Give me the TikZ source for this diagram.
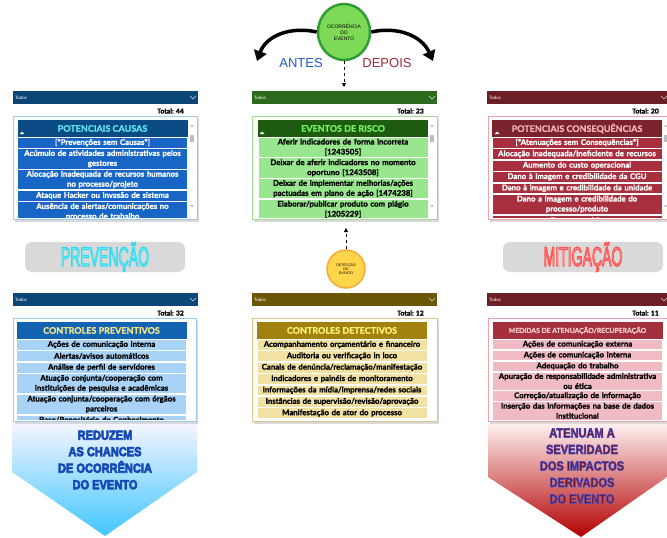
\documentclass[tikz,border=0pt]{standalone}
\usepackage{fontspec}
\setmainfont{Lato}[BoldFeatures={FakeBold=1.2}]
\newfontfamily\disp{Liberation Sans}
\usepackage{graphicx}
\usetikzlibrary{positioning, shapes.geometric, arrows.meta, shadows}

\definecolor{causebar}{HTML}{0B4677}
\definecolor{causehdr}{HTML}{0A4B86}
\definecolor{causetxt}{HTML}{5FE3EE}
\definecolor{causerow}{HTML}{1766C6}
\definecolor{causefr}{HTML}{9FCBF1}
\definecolor{eventbar}{HTML}{2D6A1E}
\definecolor{eventhdr}{HTML}{1E5B11}
\definecolor{eventtxt}{HTML}{72F25C}
\definecolor{eventrow}{HTML}{98E78E}
\definecolor{eventfr}{HTML}{A5DA95}
\definecolor{conbar}{HTML}{6C1F27}
\definecolor{conhdr}{HTML}{7A232D}
\definecolor{context}{HTML}{F7B2B2}
\definecolor{conrow}{HTML}{A82F3D}
\definecolor{confr}{HTML}{F2A3AA}
\definecolor{prevhdr}{HTML}{1363B3}
\definecolor{prevtxt}{HTML}{F3E68C}
\definecolor{prevrow}{HTML}{A8D3F7}
\definecolor{detbar}{HTML}{6A5808}
\definecolor{dethdr}{HTML}{A1820F}
\definecolor{dettxt}{HTML}{FFF275}
\definecolor{detrow}{HTML}{F1E1A3}
\definecolor{detfr}{HTML}{D9C587}
\definecolor{mithdr}{HTML}{A4303D}
\definecolor{mittxt}{HTML}{F9CACA}
\definecolor{mitrow}{HTML}{F1BBC3}
\definecolor{occfill}{HTML}{7ED957}
\definecolor{occdraw}{HTML}{2E9B36}
\definecolor{detcfill}{HTML}{FFD54A}
\definecolor{detcdraw}{HTML}{F7A93B}
\definecolor{antes}{HTML}{1E5BC6}
\definecolor{depois}{HTML}{A3283A}
\definecolor{reduz}{HTML}{1446B0}
\definecolor{atenua}{HTML}{6E0C1A}
\definecolor{prevglow}{HTML}{86F3F3}
\definecolor{mitglow}{HTML}{FF9C9C}

% outlined text: stroke colour (rgb), stroke width, text
\newcommand\outl[3]{\special{pdf:literal direct 2 Tr #2 w #1 RG}#3\special{pdf:literal direct 0 Tr}}

\tikzset{
  bar/.style={anchor=north west, inner sep=0pt, minimum height=13pt},
  todos/.style={anchor=west, text=white, font=\fontsize{4.5}{5}\selectfont, inner sep=2pt},
  total/.style={anchor=east, font=\fontsize{6.8}{7}\selectfont\bfseries, inner sep=0pt},
  frame/.style={draw=#1, line width=0.9pt, fill=white,
    drop shadow={opacity=0.3, shadow xshift=2pt, shadow yshift=-2.5pt}},
  hdr/.style={anchor=north, minimum width=170pt, minimum height=16.5pt, inner sep=0pt,
    font=\fontsize{9}{9}\selectfont\bfseries},
  row/.style={anchor=north, text width=168pt, align=center, inner xsep=1pt, inner ysep=1.5pt,
    minimum height=10.8pt, draw=white, line width=0.6pt, font=\fontsize{7.8}{10}\selectfont\bfseries},
  banner/.style={fill=black!15, rounded corners=7pt, minimum width=160pt, minimum height=30pt},
  glow/.style={font=\disp\fontsize{27}{27}\selectfont, inner sep=0pt},
  slogan/.style={align=center, font=\disp\fontsize{13}{16.5}\selectfont\bfseries, inner sep=0pt},
  bigarrow/.style={line width=3.5pt, -{Triangle[width=13pt,length=10pt]}},
  dasharrow/.style={dashed, line width=0.9pt, -{Triangle[width=4pt,length=4pt]}},
  scrl/.style={draw=black!45, line width=0.5pt}
}

\begin{document}
\begin{tikzpicture}[x=1pt, y=-1pt, node distance=0pt]
\useasboundingbox (0,0) rectangle (667,538);

% top: event occurrence %
\node[ellipse, fill=occfill, draw=occdraw, line width=2.5pt, minimum width=52pt, minimum height=56pt,
  align=center, inner sep=0pt, font=\disp\fontsize{5}{6}\selectfont] (occ) at (344,32) {OCORRÊNCIA\\DO\\EVENTO};
\node[font=\disp\fontsize{13}{13}\selectfont, text=antes] (antes) at (301,63) {ANTES};
\node[font=\disp\fontsize{13}{13}\selectfont, text=depois] (depois) at (387,63) {DEPOIS};
\coordinate (tipL) at (257,61);
\coordinate (tipR) at (433,61);
\coordinate (downE) at (344,87);
\draw[bigarrow] (occ.west) .. controls (290,26) and (266,36) .. (tipL);
\draw[bigarrow] (occ.east) .. controls (398,26) and (422,36) .. (tipR);
\draw[dasharrow] (occ.south) -- (downE);

% slicer bars (top) %
\node[bar, fill=causebar, minimum width=185pt] (barA) at (13,91) {};
\node[bar, fill=eventbar, minimum width=185pt] (barB) at (252,91) {};
\node[bar, fill=conbar, minimum width=180pt] (barC) at (487,91) {};
\node[todos] (tA) at (barA.west) {Todos};
\node[todos] (tB) at (barB.west) {Todos};
\node[todos] (tC) at (barC.west) {Todos};
\foreach \cx in {193,432,664} \draw[white!70!gray, line width=0.5pt] (\cx-3,96) -- (\cx,99) -- (\cx+3,96);
\node[total] (totA) at (184,111) {Total: 44};
\node[total] (totB) at (424,111) {Total: 23};
\node[total] (totC) at (659,111) {Total: 20};

% top list boxes %
\path[frame=causefr] (13,116) rectangle (197,219);
\path[frame=eventfr] (252,116) rectangle (437,219);
\path[frame=confr] (488,116) rectangle (669,219);

\begin{scope}
\clip (17,119) rectangle (188,217);
\node[hdr, fill=causehdr, text=causetxt] (pc) at (102.5,120) {POTENCIAIS CAUSAS};
\node[row, fill=causerow, text=white, below=of pc] (pc1) {[*Prevenções sem Causas*]};
\node[row, fill=causerow, text=white, below=of pc1] (pc2) {Acúmulo de atividades administrativas pelos\\gestores};
\node[row, fill=causerow, text=white, below=of pc2] (pc3) {Alocação inadequada de recursos humanos\\no processo/projeto};
\node[row, fill=causerow, text=white, below=of pc3] (pc4) {Ataque Hacker ou invasão de sistema};
\node[row, fill=causerow, text=white, below=of pc4] (pc5) {Ausência de alertas/comunicações no\\processo de trabalho};
\end{scope}

\begin{scope}
\clip (257,119) rectangle (429,217);
\node[hdr, fill=eventhdr, text=eventtxt] (er) at (343,120) {EVENTOS DE RISCO};
\node[row, fill=eventrow, below=of er] (er1) {Aferir indicadores de forma incorreta\\{}[1243505]};
\node[row, fill=eventrow, below=of er1] (er2) {Deixar de aferir indicadores no momento\\oportuno [1243508]};
\node[row, fill=eventrow, below=of er2] (er3) {Deixar de implementar melhorias/ações\\pactuadas em plano de ação [1474238]};
\node[row, fill=eventrow, below=of er3] (er4) {Elaborar/publicar produto com plágio\\{}[1205229]};
\end{scope}

\begin{scope}
\clip (492,119) rectangle (663,217);
\node[hdr, fill=conhdr, text=context] (pq) at (577,120) {POTENCIAIS CONSEQUÊNCIAS};
\node[row, fill=conrow, text=white, below=of pq] (pq1) {[*Atenuações sem Consequências*]};
\node[row, fill=conrow, text=white, below=of pq1] (pq2) {Alocação inadequada/ineficiente de recursos};
\node[row, fill=conrow, text=white, below=of pq2] (pq3) {Aumento do custo operacional};
\node[row, fill=conrow, text=white, below=of pq3] (pq4) {Dano à imagem e credibilidade da CGU};
\node[row, fill=conrow, text=white, below=of pq4] (pq5) {Dano à imagem e credibilidade da unidade};
\node[row, fill=conrow, text=white, below=of pq5] (pq6) {Dano a imagem e credibilidade do\\processo/produto};
\node[row, fill=conrow, text=white, below=of pq6] (pq7) {Dano ao erário};
\end{scope}

% scrollbars and header carets %
\foreach \sx/\ty in {192/126, 432/126, 666/126, 191/328, 430/328, 666/328} {
  \draw[scrl] (\sx-1.5,\ty+1) -- (\sx,\ty-0.5) -- (\sx+1.5,\ty+1);
  \fill[black!25] (\sx-2,\ty+9) rectangle (\sx+2,\ty+16);
  \draw[scrl] (\sx-1.5,\ty+79) -- (\sx,\ty+80.5) -- (\sx+1.5,\ty+79);
}
\foreach \hx/\hy in {22/134, 262/134, 497/134, 21/336, 260/336, 498/336}
  \fill[white] (\hx-2.5,\hy) -- (\hx,\hy-2.5) -- (\hx+2.5,\hy) -- cycle;

% prevention / mitigation banners %
\node[banner] (prev) at (105,257) {};
\node[banner] (mitig) at (583,257) {};
\node[glow, text=prevglow] (prevtxt) at (prev.center)
  {\scalebox{0.52}[1]{\outl{0.2 0.85 0.95}{1.3}{PREVENÇÃO}}};
\node[glow, text=mitglow] (mittxt) at (mitig.center)
  {\scalebox{0.52}[1]{\outl{1 0.33 0.33}{1.3}{MITIGAÇÃO}}};

% detection %
\node[ellipse, fill=detcfill, draw=detcdraw, line width=1.5pt, minimum width=38pt, minimum height=38pt,
  align=center, inner sep=0pt, font=\disp\fontsize{3.5}{4.2}\selectfont] (det) at (346,269) {DETECÇÃO\\DO\\EVENTO};
\coordinate (upE) at (346,228);
\draw[dasharrow] (det.north) -- (upE);

% slicer bars (bottom) %
\node[bar, fill=causebar, minimum width=185pt] (barD) at (13,293) {};
\node[bar, fill=detbar, minimum width=185pt] (barE) at (252,293) {};
\node[bar, fill=conbar, minimum width=180pt] (barF) at (487,293) {};
\node[todos] (tD) at (barD.west) {Todos};
\node[todos] (tE) at (barE.west) {Todos};
\node[todos] (tF) at (barF.west) {Todos};
\foreach \cx in {193,432,664} \draw[white!70!gray, line width=0.5pt] (\cx-3,298) -- (\cx,301) -- (\cx+3,298);
\node[total] (totD) at (184,313) {Total: 32};
\node[total] (totE) at (424,313) {Total: 12};
\node[total] (totF) at (659,313) {Total: 11};

% bottom list boxes %
\path[frame=causefr] (13,318) rectangle (196,421);
\path[frame=detfr] (252,318) rectangle (437,421);
\path[frame=confr] (488,318) rectangle (669,421);

\begin{scope}
\clip (16,321) rectangle (187,419);
\node[hdr, fill=prevhdr, text=prevtxt] (cp) at (101.5,322) {CONTROLES PREVENTIVOS};
\node[row, fill=prevrow, below=of cp] (cp1) {Ações de comunicação interna};
\node[row, fill=prevrow, below=of cp1] (cp2) {Alertas/avisos automáticos};
\node[row, fill=prevrow, below=of cp2] (cp3) {Análise de perfil de servidores};
\node[row, fill=prevrow, below=of cp3] (cp4) {Atuação conjunta/cooperação com\\instituições de pesquisa e acadêmicas};
\node[row, fill=prevrow, below=of cp4] (cp5) {Atuação conjunta/cooperação com órgãos\\parceiros};
\node[row, fill=prevrow, below=of cp5] (cp6) {Base/Repositório de Conhecimento};
\end{scope}

\begin{scope}
\clip (256,321) rectangle (428,419);
\node[hdr, fill=dethdr, text=dettxt] (cd) at (342,322) {CONTROLES DETECTIVOS};
\node[row, fill=detrow, below=of cd] (cd1) {Acompanhamento orçamentário e financeiro};
\node[row, fill=detrow, below=of cd1] (cd2) {Auditoria ou verificação in loco};
\node[row, fill=detrow, below=of cd2] (cd3) {Canais de denúncia/reclamação/manifestação};
\node[row, fill=detrow, below=of cd3] (cd4) {Indicadores e painéis de monitoramento};
\node[row, fill=detrow, below=of cd4] (cd5) {Informações da mídia/imprensa/redes sociais};
\node[row, fill=detrow, below=of cd5] (cd6) {Instâncias de supervisão/revisão/aprovação};
\node[row, fill=detrow, below=of cd6] (cd7) {Manifestação de ator do processo};
\node[row, fill=detrow, below=of cd7] (cd8) {Manifestação de ator externo ao processo};
\end{scope}

\begin{scope}
\clip (493,321) rectangle (663,419);
\node[hdr, fill=mithdr, text=mittxt, font=\fontsize{6.8}{7}\selectfont\bfseries] (ma) at (577.5,322) {MEDIDAS DE ATENUAÇÃO/RECUPERAÇÃO};
\node[row, fill=mitrow, below=of ma, minimum height=10.3pt, inner ysep=1.2pt] (ma1) {Ações de comunicação externa};
\node[row, fill=mitrow, below=of ma1, minimum height=10.3pt, inner ysep=1.2pt] (ma2) {Ações de comunicação interna};
\node[row, fill=mitrow, below=of ma2, minimum height=10.3pt, inner ysep=1.2pt] (ma3) {Adequação do trabalho};
\node[row, fill=mitrow, below=of ma3, minimum height=10.3pt, inner ysep=1.2pt] (ma4) {Apuração de responsabilidade administrativa\\ou ética};
\node[row, fill=mitrow, below=of ma4, minimum height=10.3pt, inner ysep=1.2pt] (ma5) {Correção/atualização de informação};
\node[row, fill=mitrow, below=of ma5, minimum height=10.3pt, inner ysep=1.2pt] (ma6) {Inserção das informações na base de dados\\institucional};
\end{scope}

% bottom arrows %
\shade[top color=blue!4!white, bottom color=cyan!70!blue!75!white]
  (12,424) -- (197,424) -- (197,472) -- (105,536) -- (12,472) -- cycle;
\shade[top color=red!6!white, bottom color=red!70!black]
  (488,424) -- (667,424) -- (667,477) -- (581,537) -- (488,477) -- cycle;
\node[slogan, text=reduz] (rd) at (105,460)
  {\scalebox{0.85}[1]{\outl{0.1 0.3 0.72}{0.7}{REDUZEM}}\\\scalebox{0.85}[1]{\outl{0.1 0.3 0.72}{0.7}{AS CHANCES}}\\
   \scalebox{0.85}[1]{\outl{0.1 0.3 0.72}{0.7}{DE OCORRÊNCIA}}\\\scalebox{0.85}[1]{\outl{0.1 0.3 0.72}{0.7}{DO EVENTO}}};
\node[slogan, text=atenua] (at) at (582,466)
  {\scalebox{0.85}[1]{\outl{0.3 0.3 0.75}{0.7}{ATENUAM A}}\\\scalebox{0.85}[1]{\outl{0.3 0.3 0.75}{0.7}{SEVERIDADE}}\\
   \scalebox{0.85}[1]{\outl{0.3 0.3 0.75}{0.7}{DOS IMPACTOS}}\\\scalebox{0.85}[1]{\outl{0.3 0.3 0.75}{0.7}{DERIVADOS}}\\
   \scalebox{0.85}[1]{\outl{0.3 0.3 0.75}{0.7}{DO EVENTO}}};
\end{tikzpicture}
\end{document}
